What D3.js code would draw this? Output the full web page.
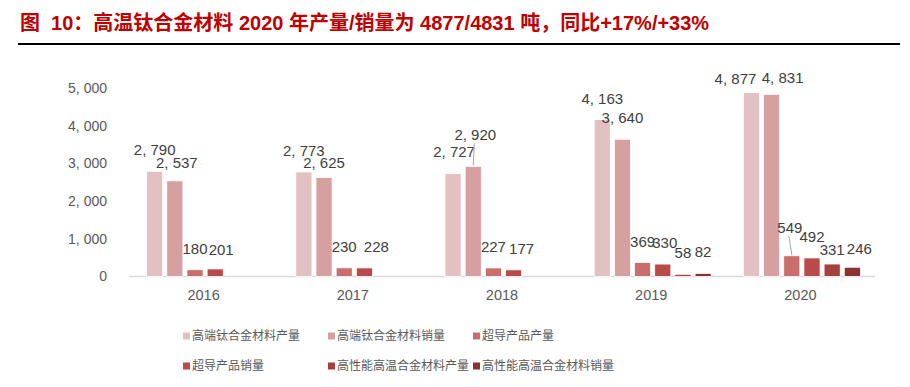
<!DOCTYPE html>
<html>
<head>
<meta charset="utf-8">
<script src="https://cdn.jsdelivr.net/npm/d3@7"></script>
<style>
  body { margin: 0; background: #fff; }
  svg { display: block; }
</style>
</head>
<body>
<svg id="chart"></svg>
<script>
// values (tonnes)
let years = ['2016', '2017', '2018', '2019', '2020']
let tiProd = [2790, 2773, 2727, 4163, 4877]
let tiSales = [2537, 2625, 2920, 3640, 4831]
let scProd = [180, 230, 227, 369, 549]
let scSales = [201, 228, 177, 330, 492]
let htProd = [null, null, null, 58, 331]
let htSales = [null, null, null, 82, 246]
let seriesNames = ['高端钛合金材料产量', '高端钛合金材料销量', '超导产品产量',
  '超导产品销量', '高性能高温合金材料产量', '高性能高温合金材料销量']
let yTicks = [0, 1000, 2000, 3000, 4000, 5000]

let allSeries = [tiProd, tiSales, scProd, scSales, htProd, htSales]
let colors = ['#e3c1c2', '#d7a0a0', '#c96e6d', '#b84b49', '#a5403f', '#8c3234']

let width = 910
let height = 387
let svg = d3.select('#chart')
  .attr('width', width)
  .attr('height', height)
  .style('font-family', '"Liberation Sans", Arial, sans-serif')

// title
svg.append('text')
  .attr('x', 20)
  .attr('y', 30)
  .attr('fill', '#c00000')
  .attr('font-size', 20)
  .attr('font-weight', 'bold')
  .attr('xml:space', 'preserve')
  .style('white-space', 'pre')
  .style('font-family', '"Liberation Sans", "Noto Sans CJK SC", sans-serif')
  .text('图  10：高温钛合金材料 2020 年产量/销量为 4877/4831 吨，同比+17%/+33%')
svg.append('line')
  .attr('x1', 18).attr('x2', 900)
  .attr('y1', 44).attr('y2', 44)
  .attr('stroke', '#000').attr('stroke-width', 2)

let x = d3.scaleBand().domain(years).range([129, 875])
let xInner = d3.scaleBand().domain(d3.range(6)).range([-57, 60]).paddingInner(0.2)
let y = d3.scaleLinear().domain([0, 5000]).range([276.5, 88])

let fmt = (v) => d3.format(',')(v).replace(/,/g, ', ')

// y axis labels
svg.append('g')
  .selectAll('text')
  .data(yTicks)
  .enter()
  .append('text')
  .attr('x', 107)
  .attr('y', (d) => y(d))
  .attr('dy', '0.35em')
  .attr('text-anchor', 'end')
  .attr('font-size', 14)
  .attr('fill', '#595959')
  .text(fmt)

// baseline
svg.append('line')
  .attr('x1', 129).attr('x2', 875)
  .attr('y1', y(0)).attr('y2', y(0))
  .attr('stroke', '#d9d9d9').attr('stroke-width', 1.5)

// category labels
svg.append('g')
  .selectAll('text')
  .data(years)
  .enter()
  .append('text')
  .attr('x', (d) => x(d) + x.bandwidth() / 2)
  .attr('y', 300)
  .attr('text-anchor', 'middle')
  .attr('font-size', 14.5)
  .attr('fill', '#595959')
  .text((d) => d)

let cells = []
allSeries.forEach((vals, s) => {
  vals.forEach((v, i) => {
    if (v != null) cells.push({ year: years[i], s: s, value: v })
  })
})

svg.append('g')
  .selectAll('rect')
  .data(cells)
  .enter()
  .append('rect')
  .attr('x', (d) => x(d.year) + x.bandwidth() / 2 + xInner(d.s))
  .attr('y', (d) => y(d.value))
  .attr('width', xInner.bandwidth())
  .attr('height', (d) => y(0) - y(d.value))
  .attr('fill', (d) => colors[d.s])
  .attr('stroke', '#fff')
  .attr('stroke-width', 0.8)

// hand-moved labels in the original: [dx, dy, leader line]
let nudge = {
  '2016|1': [2, 3], '2016|3': [6, 2],
  '2017|1': [0, 6], '2017|3': [12, 0],
  '2018|0': [1, -1], '2018|1': [2, -10, true], '2018|3': [8, 0],
  '2019|3': [2, 0],
  '2020|0': [-16, 7], '2020|1': [11, 5], '2020|2': [-2, -7, true],
  '2020|4': [0, 6.5], '2020|5': [7, 3]
}

let labels = svg.append('g')
cells.forEach((d) => {
  let n = nudge[d.year + '|' + d.s] || [0, 0]
  let cx = x(d.year) + x.bandwidth() / 2 + xInner(d.s) + xInner.bandwidth() / 2
  let top = y(d.value)
  let ly = top - 16 + n[1]
  if (n[2]) {
    labels.append('line')
      .attr('x1', cx + n[0] - 1).attr('y1', ly + 3)
      .attr('x2', cx).attr('y2', top - 1)
      .attr('stroke', '#a6a6a6').attr('stroke-width', 1)
  }
  labels.append('text')
    .attr('x', cx + n[0])
    .attr('y', ly)
    .attr('text-anchor', 'middle')
    .attr('font-size', 15)
    .attr('fill', '#404040')
    .text(fmt(d.value))
})

// legend
let legCols = [183, 328, 473]
let legRows = [336, 366]
let legend = svg.append('g')
  .selectAll('g')
  .data(seriesNames)
  .enter()
  .append('g')
  .attr('transform', (d, i) => `translate(${legCols[i % 3]},${legRows[Math.floor(i / 3)]})`)
legend.append('rect')
  .attr('x', 0).attr('y', -3.5)
  .attr('width', 7).attr('height', 7)
  .attr('fill', (d, i) => colors[i])
legend.append('text')
  .attr('x', 9)
  .attr('y', 0)
  .attr('dy', '0.36em')
  .attr('font-size', 12)
  .attr('fill', '#595959')
  .style('font-family', '"Noto Sans CJK SC", sans-serif')
  .text((d) => d)
</script>
</body>
</html>
